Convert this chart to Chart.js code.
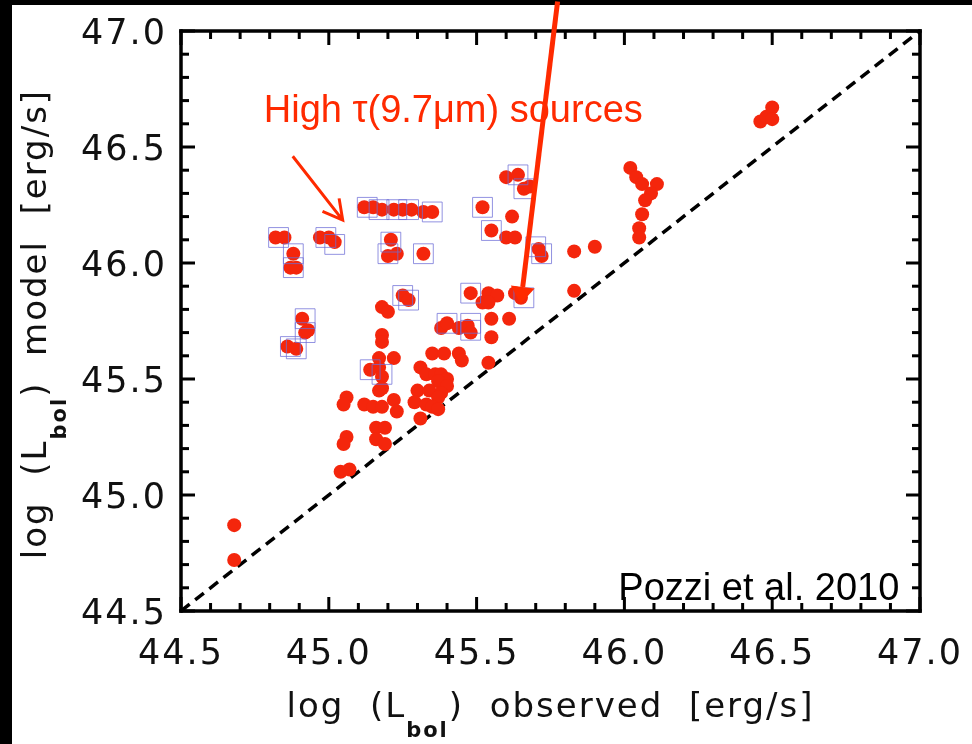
<!DOCTYPE html>
<html><head><meta charset="utf-8">
<script src="https://cdn.jsdelivr.net/npm/chart.js@4/dist/chart.umd.min.js"></script>
<style>html,body{margin:0;padding:0;background:#fff;} #wrap{width:972px;height:744px;position:relative;}</style>
</head><body><div id="wrap"><canvas id="c"></canvas></div>
<script>
// log(Lbol) observed (x) and log(Lbol) model (y) for every source
const observedLbol = [
 44.82,44.85,44.88,44.87,44.89,44.97,45.00,45.02,
 45.12,45.15,45.18,45.22,45.25,45.28,45.32,45.35,
 45.21,45.20,45.23,45.32,45.25,45.27,45.18,45.20,
 44.91,44.92,44.93,44.86,44.89,45.18,45.18,45.17,45.22,
 45.14,45.17,45.18,45.18,45.17,45.06,45.05,45.12,45.15,45.18,45.22,45.23,
 45.16,45.19,45.16,45.19,45.06,45.05,45.04,45.07,44.68,44.68,
 45.35,45.39,45.44,45.45,45.31,45.33,45.36,45.38,45.40,45.37,45.40,
 45.30,45.34,45.38,45.37,45.29,45.33,45.35,45.37,45.31,
 45.38,45.40,45.44,45.47,45.48,45.55,45.61,45.55,45.54,
 45.48,45.54,45.57,45.52,45.54,45.63,45.65,
 45.60,45.64,45.66,45.68,45.52,45.62,45.55,45.60,45.63,45.71,45.72,
 45.83,45.90,45.83,
 46.02,46.04,46.06,46.11,46.09,46.07,46.06,46.05,46.05,
 46.46,46.48,46.50,46.50
];
const modelLbol = [
 46.11,46.11,46.04,45.98,45.98,46.11,46.11,46.09,
 46.24,46.24,46.23,46.23,46.23,46.23,46.22,46.22,
 46.10,46.03,46.04,46.04,45.86,45.84,45.81,45.79,
 45.76,45.70,45.71,45.64,45.63,45.69,45.66,45.59,45.59,
 45.54,45.55,45.51,45.46,45.45,45.42,45.39,45.39,45.38,45.38,45.41,45.36,
 45.29,45.29,45.24,45.22,45.25,45.22,45.10,45.11,44.87,44.72,
 45.61,45.61,45.61,45.58,45.55,45.52,45.52,45.52,45.50,45.49,45.47,
 45.45,45.45,45.44,45.42,45.40,45.39,45.38,45.37,45.33,
 45.72,45.74,45.72,45.73,45.70,45.76,45.76,45.68,45.57,
 45.87,45.87,45.86,45.83,45.83,45.87,45.85,
 46.37,46.38,46.32,46.33,46.24,46.20,46.14,46.11,46.11,46.06,46.03,
 46.05,46.07,45.88,
 46.41,46.37,46.34,46.34,46.30,46.27,46.21,46.15,46.11,
 46.61,46.63,46.67,46.62
];
// High tau(9.7um) sources (boxed)
const boxedObserved = [
 44.83,44.88,44.88,44.99,45.02,45.13,45.17,45.23,45.27,45.35,
 45.21,45.20,45.32,45.25,45.27,44.92,44.92,44.87,44.89,45.14,45.18,
 45.40,45.48,45.48,45.48,45.66,45.52,45.55,45.64,45.66,45.70,45.72
];
const boxedModel = [
 46.11,46.04,45.98,46.11,46.08,46.24,46.23,46.23,46.23,46.22,
 46.09,46.04,46.04,45.86,45.84,45.76,45.70,45.64,45.63,45.54,45.52,
 45.74,45.74,45.71,45.87,45.85,46.24,46.14,46.38,46.32,46.07,46.04
];
const oneToOneLine = [44.5, 47.0];
const xTickValues = [44.5, 45.0, 45.5, 46.0, 46.5, 47.0];
const yTickValues = [44.5, 45.0, 45.5, 46.0, 46.5, 47.0];
const xTitleParts = ['log  (L', 'bol', ')  observed  [erg/s]'];
const yTitleParts = ['log  (L', 'bol', ')  model  [erg/s]'];
const annotationText = 'High \u03c4(9.7\u03bcm) sources';
const creditText = 'Pozzi et al. 2010';

const TICK_FONT = '"DejaVu Sans", sans-serif';
const RED = '#ff2a00';

function drawTitle(ctx, parts) {
  ctx.font = '34px ' + TICK_FONT;
  const w1 = ctx.measureText(parts[0]).width;
  const w3 = ctx.measureText(parts[2]).width;
  ctx.font = 'bold 21px ' + TICK_FONT;
  const w2 = ctx.measureText(parts[1]).width;
  const start = -(w1 + w2 + w3) / 2;
  ctx.textAlign = 'left'; ctx.textBaseline = 'alphabetic';
  ctx.fillStyle = '#111';
  ctx.font = '34px ' + TICK_FONT;
  ctx.fillText(parts[0], start, 0);
  ctx.font = 'bold 21px ' + TICK_FONT;
  ctx.fillText(parts[1], start + w1, 20);
  ctx.font = '34px ' + TICK_FONT;
  ctx.fillText(parts[2], start + w1 + w2, 0);
}

const deco = {
  id: 'deco',
  beforeDraw(chart) {
    const ctx = chart.ctx;
    ctx.save();
    ctx.fillStyle = '#000';
    ctx.fillRect(0, 0, chart.width, chart.height);
    ctx.fillStyle = '#fff';
    ctx.fillRect(12, 5, chart.width - 12, chart.height - 5);
    ctx.restore();
    ctx.letterSpacing = '2px';
  },
  afterDraw(chart) {
    const ctx = chart.ctx, xs = chart.scales.x, ys = chart.scales.y, ca = chart.chartArea;
    ctx.save();
    ctx.setLineDash([]);
    // frame
    ctx.fillStyle = '#000';
    const L0 = Math.round(ca.left), R0 = Math.round(ca.right), T0 = Math.round(ca.top), B0 = Math.round(ca.bottom);
    const bw = 3.5;
    ctx.fillRect(L0 - bw / 2, T0 - bw / 2, R0 - L0 + bw, bw);
    ctx.fillRect(L0 - bw / 2, B0 - bw / 2, R0 - L0 + bw, bw);
    ctx.fillRect(L0 - bw / 2, T0 - bw / 2, bw, B0 - T0 + bw);
    ctx.fillRect(R0 - bw / 2, T0 - bw / 2, bw, B0 - T0 + bw);
    // ticks (inward, all four sides)
    const tw = 3;
    for (let i = 0; i <= 25; i++) {
      const v = 44.5 + i * 0.1;
      const L = (i % 5 === 0) ? 14 : 8;
      const x = xs.getPixelForValue(v);
      ctx.fillRect(x - tw / 2, B0 - L, tw, L);
      ctx.fillRect(x - tw / 2, T0, tw, L);
      const y = ys.getPixelForValue(v);
      ctx.fillRect(L0, y - tw / 2, L, tw);
      ctx.fillRect(R0 - L, y - tw / 2, L, tw);
    }

    // axis titles
    ctx.letterSpacing = '2px';
    ctx.save();
    ctx.translate((ca.left + ca.right) / 2, 717);
    drawTitle(ctx, xTitleParts);
    ctx.restore();
    ctx.save();
    ctx.translate(46, 324);
    ctx.rotate(-Math.PI / 2);
    drawTitle(ctx, yTitleParts);
    ctx.restore();

    // annotations
    ctx.letterSpacing = '0px';
    ctx.font = '38px "Liberation Sans", Arial, sans-serif';
    ctx.textBaseline = 'alphabetic';
    ctx.fillStyle = RED;
    ctx.textAlign = 'left';
    ctx.fillText(annotationText, xs.getPixelForValue(44.78), ys.getPixelForValue(46.607));
    ctx.fillStyle = '#000';
    ctx.textAlign = 'right';
    ctx.fillText(creditText, xs.getPixelForValue(46.93), ys.getPixelForValue(44.547));

    // small arrow with open head
    ctx.strokeStyle = RED; ctx.lineCap = 'butt';
    let x0 = xs.getPixelForValue(44.878), y0 = ys.getPixelForValue(46.460);
    let x1 = xs.getPixelForValue(45.047), y1 = ys.getPixelForValue(46.185);
    let a = Math.atan2(y1 - y0, x1 - x0);
    ctx.lineWidth = 3;
    ctx.beginPath(); ctx.moveTo(x0, y0); ctx.lineTo(x1, y1);
    ctx.moveTo(x1 - 22 * Math.cos(a - 0.5), y1 - 22 * Math.sin(a - 0.5)); ctx.lineTo(x1, y1);
    ctx.lineTo(x1 - 22 * Math.cos(a + 0.5), y1 - 22 * Math.sin(a + 0.5));
    ctx.stroke();

    // long arrow with filled head
    x0 = xs.getPixelForValue(45.774); y0 = ys.getPixelForValue(47.127);
    x1 = xs.getPixelForValue(45.649); y1 = ys.getPixelForValue(45.824);
    a = Math.atan2(y1 - y0, x1 - x0);
    const hl = 17, hw = 12;
    const bx = x1 - hl * Math.cos(a), by = y1 - hl * Math.sin(a);
    ctx.lineWidth = 5;
    ctx.beginPath(); ctx.moveTo(x0, y0); ctx.lineTo(bx, by); ctx.stroke();
    ctx.fillStyle = RED;
    ctx.beginPath();
    ctx.moveTo(x1, y1);
    ctx.lineTo(bx + hw * Math.sin(a), by - hw * Math.cos(a));
    ctx.lineTo(bx - hw * Math.sin(a), by + hw * Math.cos(a));
    ctx.closePath(); ctx.fill();
    ctx.restore();
  }
};

const points = observedLbol.map((x, i) => ({ x: x, y: modelLbol[i] }));
const boxes = boxedObserved.map((x, i) => ({ x: x, y: boxedModel[i] }));
const line = oneToOneLine.map(v => ({ x: v, y: v }));

new Chart(document.getElementById('c'), {
  type: 'scatter',
  data: {
    datasets: [
      { label: 'High tau sources', data: boxes, pointStyle: 'rect', pointRadius: 14,
        backgroundColor: 'rgba(0,0,0,0)', borderColor: 'rgba(110,110,215,0.75)', borderWidth: 1, order: 0 },
      { label: 'Sources', data: points, pointRadius: 7, backgroundColor: '#f4260c',
        borderWidth: 0, order: 1 },
      { label: '1:1', type: 'line', data: line, borderColor: '#000', borderWidth: 3.5,
        borderDash: [11, 7], pointRadius: 0, fill: false, order: 2 }
    ]
  },
  options: {
    animation: false, responsive: true, maintainAspectRatio: false,
    plugins: { legend: { display: false }, tooltip: { enabled: false } },
    layout: { padding: { left: 0, top: 31, right: 52, bottom: 0 } },
    scales: {
      x: {
        type: 'linear', min: 44.5, max: 47.0,
        afterBuildTicks: s => { s.ticks = xTickValues.map(v => ({ value: v })); },
        ticks: { callback: v => Number(v).toFixed(1), font: { family: TICK_FONT, size: 35 },
          color: '#111', padding: 23, maxRotation: 0, autoSkip: false },
        grid: { display: false, drawTicks: false }, border: { display: false },
        afterFit: s => { s.height = 133; s.paddingLeft = 0; s.paddingRight = 0; }
      },
      y: {
        type: 'linear', min: 44.5, max: 47.0,
        afterBuildTicks: s => { s.ticks = yTickValues.map(v => ({ value: v })); },
        ticks: { callback: v => Number(v).toFixed(1), font: { family: TICK_FONT, size: 35 },
          color: '#111', padding: 14, labelOffset: 4, autoSkip: false },
        grid: { display: false, drawTicks: false }, border: { display: false },
        afterFit: s => { s.width = 181; s.paddingTop = 0; s.paddingBottom = 0; }
      }
    }
  },
  plugins: [deco]
});
</script></body></html>
